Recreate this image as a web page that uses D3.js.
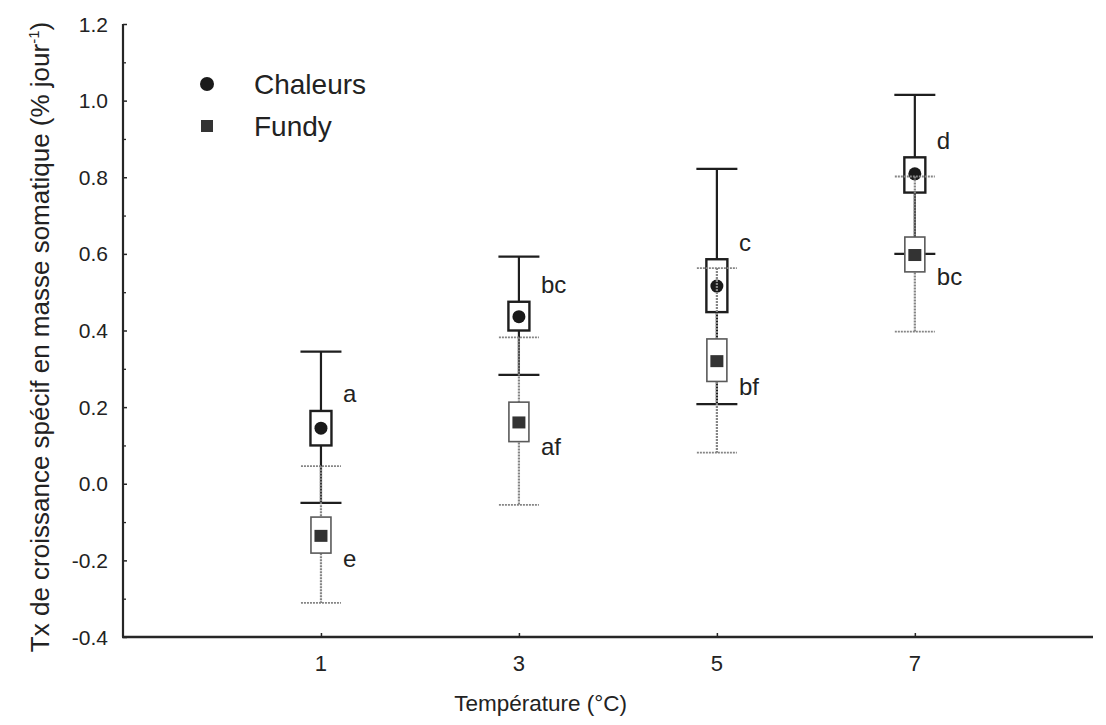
<!DOCTYPE html>
<html>
<head>
<meta charset="utf-8">
<script src="https://cdn.jsdelivr.net/npm/d3@7"></script>
<style>
  html, body { margin: 0; padding: 0; background: #fff; }
  svg { display: block; font-family: "Liberation Sans", Arial, Helvetica, sans-serif; }
</style>
</head>
<body>
<svg id="chart" width="1106" height="725"></svg>
<script>
// Temperatures (°C)
const temps = [1, 3, 5, 7];

// Chaleurs: mean, box (q1..q3) and whisker ends
const chaleursMean = [0.145, 0.436, 0.516, 0.809];
const chaleursQ1   = [0.100, 0.400, 0.448, 0.760];
const chaleursQ3   = [0.190, 0.475, 0.586, 0.852];
const chaleursLow  = [-0.050, 0.284, 0.208, 0.600];
const chaleursHigh = [0.345, 0.593, 0.822, 1.015];
const chaleursLetters = ["a", "bc", "c", "d"];

// Fundy
const fundyMean = [-0.136, 0.160, 0.320, 0.597];
const fundyQ1   = [-0.181, 0.110, 0.267, 0.553];
const fundyQ3   = [-0.087, 0.213, 0.378, 0.644];
const fundyLow  = [-0.311, -0.055, 0.081, 0.397];
const fundyHigh = [0.046, 0.382, 0.563, 0.802];
const fundyLetters = ["e", "af", "bf", "bc"];

// Axis ticks
const yTicks = [-0.4, -0.2, 0.0, 0.2, 0.4, 0.6, 0.8, 1.0, 1.2];
const yMinorTicks = [-0.3, -0.1, 0.1, 0.3, 0.5, 0.7, 0.9, 1.1];
const xTicks = [1, 3, 5, 7];

const svg = d3.select("#chart");
const x = d3.scaleLinear().domain([-1, 8.8]).range([123, 1093]);
const y = d3.scaleLinear().domain([-0.4, 1.2]).range([637, 24]);

const axisColor = "#262626";
const textColor = "#222";
const fmt = d => d3.format(".1f")(d).replace("\u2212", "-");

// Y axis (ticks pointing inward)
const yAxis = svg.append("g").attr("transform", `translate(${x(-1)},0)`)
  .call(d3.axisRight(y).tickValues(yTicks).tickSize(4).tickFormat(""));
yAxis.select(".domain").attr("stroke", axisColor).attr("stroke-width", 2.2).attr("d", `M0,${y(1.2)}V${y(-0.4)}`);
yAxis.selectAll(".tick line").attr("stroke", axisColor).attr("stroke-width", 1.5);
svg.append("g").attr("transform", `translate(${x(-1)},0)`)
  .call(d3.axisRight(y).tickValues(yMinorTicks).tickSize(3).tickFormat(""))
  .call(g => g.select(".domain").remove())
  .selectAll(".tick line").attr("stroke", axisColor).attr("stroke-width", 1.3);

svg.append("g").selectAll("text").data(yTicks).join("text")
  .attr("x", 108).attr("y", d => y(d) + 7.5)
  .attr("text-anchor", "end").attr("font-size", 21).attr("fill", textColor)
  .text(fmt);

// X axis (ticks pointing inward)
const xAxis = svg.append("g").attr("transform", `translate(0,${y(-0.4)})`)
  .call(d3.axisTop(x).tickValues(xTicks).tickSize(4).tickFormat(""));
xAxis.select(".domain").attr("stroke", axisColor).attr("stroke-width", 2.4).attr("d", `M${x(-1) - 1},0H${x(8.8)}`);
xAxis.selectAll(".tick line").attr("stroke", axisColor).attr("stroke-width", 1.5);

svg.append("g").selectAll("text").data(xTicks).join("text")
  .attr("x", d => x(d)).attr("y", 671)
  .attr("text-anchor", "middle").attr("font-size", 22).attr("fill", textColor)
  .text(d => d);

// Axis titles
svg.append("text").attr("x", x(3.22)).attr("y", 711)
  .attr("text-anchor", "middle").attr("font-size", 22.5).attr("fill", textColor)
  .text("Température (°C)");

const yt = svg.append("text")
  .attr("transform", `translate(49,${337}) rotate(-90)`)
  .attr("text-anchor", "middle").attr("font-size", 26).attr("fill", textColor);
yt.append("tspan").text("Tx de croissance spécif en masse somatique (% jour");
yt.append("tspan").attr("dy", -10).attr("font-size", 15).text("-1");
yt.append("tspan").attr("dy", 10).text(")");

// Box plots
function boxes(cls, means, q1, q3, low, high, opts) {
  const data = temps.map((t, i) => ({ t, mean: means[i], q1: q1[i], q3: q3[i], low: low[i], high: high[i] }));
  const g = svg.append("g").attr("class", cls);
  const grp = g.selectAll("g").data(data).join("g");
  const hw = opts.boxW / 2, cw = opts.capW / 2;
  grp.append("line")
    .attr("x1", d => x(d.t)).attr("x2", d => x(d.t))
    .attr("y1", d => y(d.high)).attr("y2", d => y(d.low))
    .attr("stroke", opts.whisker).attr("stroke-width", opts.lw)
    .attr("stroke-dasharray", opts.dash);
  grp.append("line")
    .attr("x1", d => x(d.t) - cw).attr("x2", d => x(d.t) + cw)
    .attr("y1", d => y(d.high)).attr("y2", d => y(d.high))
    .attr("stroke", opts.whisker).attr("stroke-width", opts.capLw)
    .attr("stroke-dasharray", opts.dash);
  grp.append("line")
    .attr("x1", d => x(d.t) - cw).attr("x2", d => x(d.t) + cw)
    .attr("y1", d => y(d.low)).attr("y2", d => y(d.low))
    .attr("stroke", opts.whisker).attr("stroke-width", opts.capLw)
    .attr("stroke-dasharray", opts.dash);
  grp.append("rect")
    .attr("x", d => x(d.t) - hw).attr("width", opts.boxW)
    .attr("y", d => y(d.q3)).attr("height", d => y(d.q1) - y(d.q3))
    .attr("fill", "#fff").attr("stroke", opts.box).attr("stroke-width", opts.boxLw);
  return grp;
}

const chal = boxes("chaleurs", chaleursMean, chaleursQ1, chaleursQ3, chaleursLow, chaleursHigh,
  { boxW: 21, capW: 41, whisker: "#1e1e1e", box: "#1e1e1e", lw: 2.2, capLw: 2.2, boxLw: 2.4, dash: null });
chal.append("circle")
  .attr("cx", d => x(d.t)).attr("cy", d => y(d.mean)).attr("r", 6.5)
  .attr("fill", "#1a1a1a");

const fun = boxes("fundy", fundyMean, fundyQ1, fundyQ3, fundyLow, fundyHigh,
  { boxW: 20, capW: 40, whisker: "#858585", box: "#5a5a5a", lw: 2.2, capLw: 1.8, boxLw: 1.6, dash: "2 1" });
fun.append("rect")
  .attr("x", d => x(d.t) - 6.5).attr("y", d => y(d.mean) - 6)
  .attr("width", 13).attr("height", 12)
  .attr("fill", "#333");

// Significance letters
svg.append("g").selectAll("text").data(temps).join("text")
  .attr("x", d => x(d) + 22).attr("y", (d, i) => y(chaleursQ3[i]) - 17 + 8.5)
  .attr("font-size", 24).attr("fill", textColor)
  .text((d, i) => chaleursLetters[i]);
svg.append("g").selectAll("text").data(temps).join("text")
  .attr("x", d => x(d) + 22).attr("y", (d, i) => y(fundyQ1[i]) + 5 + 8.5)
  .attr("font-size", 24).attr("fill", textColor)
  .text((d, i) => fundyLetters[i]);

// Legend
const legend = svg.append("g");
legend.append("circle").attr("cx", 207).attr("cy", 84).attr("r", 7).attr("fill", "#1a1a1a");
legend.append("rect").attr("x", 201).attr("y", 120).attr("width", 12).attr("height", 12).attr("fill", "#333");
legend.append("text").attr("x", 254).attr("y", 94).attr("font-size", 28).attr("fill", textColor).text("Chaleurs");
legend.append("text").attr("x", 254).attr("y", 136).attr("font-size", 28).attr("fill", textColor).text("Fundy");
</script>
</body>
</html>
